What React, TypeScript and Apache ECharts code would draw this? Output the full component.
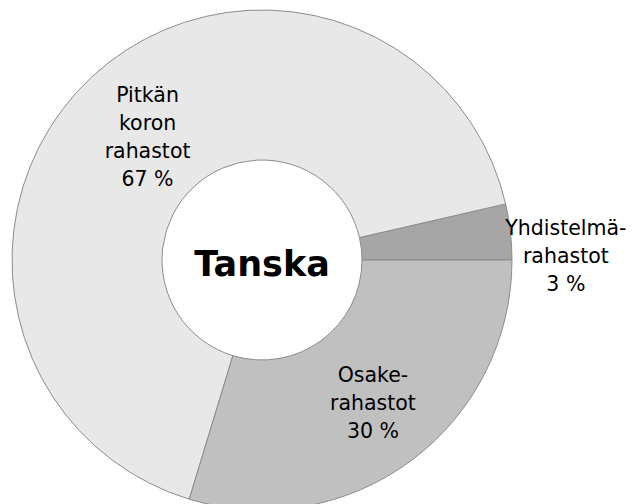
import React, { useEffect, useRef } from "react";
import * as echarts from "echarts";

const categories = ["Yhdistelmä-\nrahastot", "Pitkän\nkoron\nrahastot", "Osake-\nrahastot"];
const values = [3.6, 66.7, 29.7];
const percentLabels = ["3 %", "67 %", "30 %"];
const colors = ["#a6a6a6", "#e8e8e8", "#c0c0c0"];
const centerTitle = "Tanska";

export default function App() {
  const ref = useRef<HTMLDivElement>(null);
  useEffect(() => {
    if (!ref.current) return;
    const chart = echarts.init(ref.current, null, { renderer: "svg" });
    const font = "DejaVu Sans";
    chart.setOption({
      animation: false,
      backgroundColor: "#ffffff",
      graphic: [
        {
          type: "text",
          x: 262,
          y: 264,
          style: {
            text: centerTitle,
            font: `bold 35px "${font}"`,
            fill: "#000",
            align: "center",
            verticalAlign: "middle",
          },
        },
      ],
      series: [
        {
          type: "pie",
          center: [262, 260],
          radius: [100, 250],
          startAngle: 0,
          clockwise: false,
          avoidLabelOverlap: false,
          labelLine: { show: false },
          itemStyle: { borderColor: "#8c8c8c", borderWidth: 1 },
          emphasis: { disabled: true },
          label: {
            show: true,
            position: "inside",
            fontFamily: font,
            fontSize: 20.5,
            lineHeight: 28,
            color: "#000",
            align: "center",
            formatter: (p: any) => `${p.name}\n${percentLabels[p.dataIndex]}`,
          },
          data: categories.map((c, i) => ({
            name: c,
            value: values[i],
            itemStyle: { color: colors[i] },
            label: i === 0 ? { offset: [127, 16] } : i === 1 ? { offset: [7, 7] } : { offset: [5, 0] },
          })),
        },
      ],
    });
    return () => chart.dispose();
  }, []);
  return <div ref={ref} style={{ width: 636, height: 504, position: "absolute", left: 0, top: 0 }} />;
}
